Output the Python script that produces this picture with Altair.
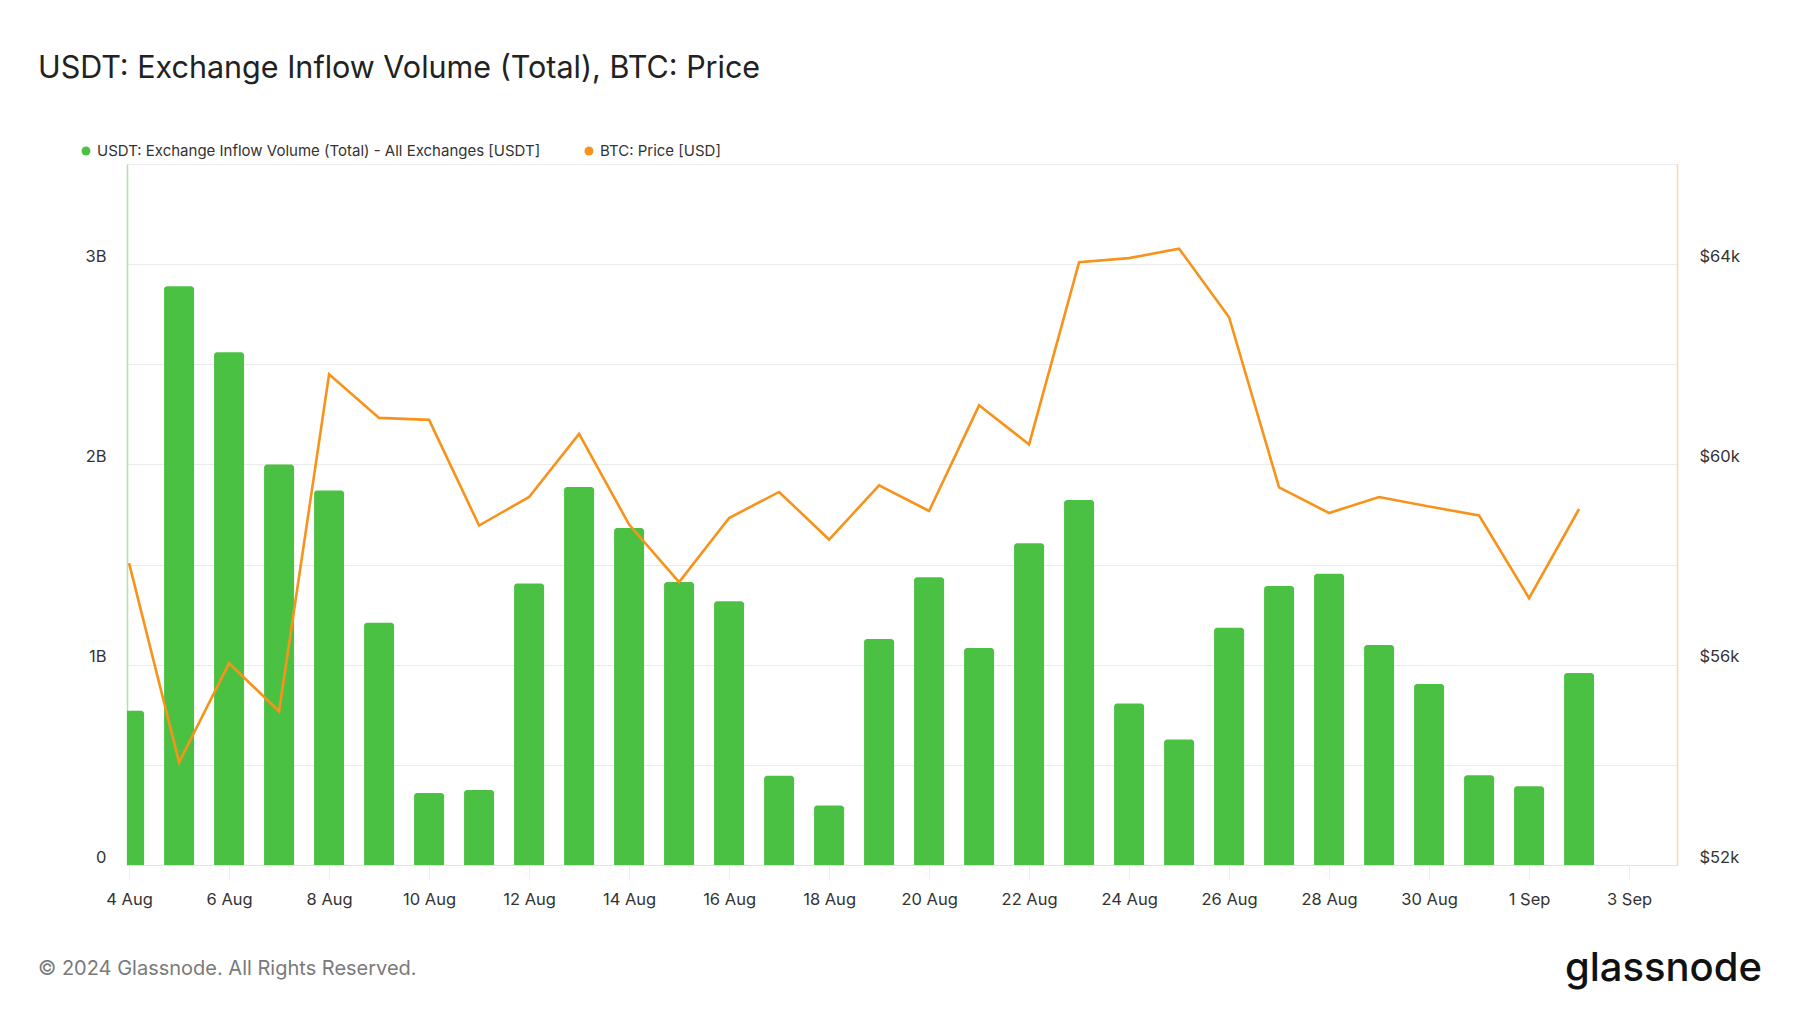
import altair as alt
import pandas as pd

# ---- data ----
dates = [
    "2024-08-04", "2024-08-05", "2024-08-06", "2024-08-07", "2024-08-08",
    "2024-08-09", "2024-08-10", "2024-08-11", "2024-08-12", "2024-08-13",
    "2024-08-14", "2024-08-15", "2024-08-16", "2024-08-17", "2024-08-18",
    "2024-08-19", "2024-08-20", "2024-08-21", "2024-08-22", "2024-08-23",
    "2024-08-24", "2024-08-25", "2024-08-26", "2024-08-27", "2024-08-28",
    "2024-08-29", "2024-08-30", "2024-08-31", "2024-09-01", "2024-09-02",
]
inflow_billion_usdt = [
    0.77, 2.89, 2.56, 2.00, 1.87, 1.21, 0.36, 0.375, 1.405, 1.887,
    1.683, 1.413, 1.317, 0.445, 0.297, 1.128, 1.437, 1.083, 1.607, 1.822,
    0.806, 0.626, 1.184, 1.393, 1.454, 1.098, 0.904, 0.448, 0.393, 0.959,
]
btc_price_usd = [
    58030, 54050, 56030, 55070, 61800, 60930, 60890, 58780, 59350, 60610,
    58800, 57650, 58930, 59450, 58500, 59580, 59070, 61180, 60400, 64040,
    64120, 64310, 62940, 59540, 59030, 59350, 59160, 58980, 57330, 59110,
]
x_tick_dates = [
    (8, 4), (8, 6), (8, 8), (8, 10), (8, 12), (8, 14), (8, 16), (8, 18),
    (8, 20), (8, 22), (8, 24), (8, 26), (8, 28), (8, 30), (9, 1), (9, 3),
]
left_ticks = [0, 0.5, 1, 1.5, 2, 2.5, 3, 3.5]
right_ticks = [52000, 54000, 56000, 58000, 60000, 62000, 64000, 66000]

title_text = "USDT: Exchange Inflow Volume (Total), BTC: Price"
legend_labels = ["USDT: Exchange Inflow Volume (Total) - All Exchanges [USDT]", "BTC: Price [USD]"]
footer_text = "© 2024 Glassnode. All Rights Reserved."
logo_text = "glassnode"

GREEN = "#4bc143"
ORANGE = "#f7931a"
FONT = "Inter"
LABEL_SIZE = 16.5

df = pd.DataFrame({"date": dates, "inflow": inflow_billion_usdt, "price": btc_price_usd})

x_scale = alt.Scale(
    type="utc",
    domain=[alt.DateTime(year=2024, month=8, date=3, hours=23, utc=True),
            alt.DateTime(year=2024, month=9, date=3, hours=23, utc=True)],
)
x_axis = alt.Axis(
    values=[alt.DateTime(year=2024, month=m, date=d, utc=True) for m, d in x_tick_dates],
    labelExpr="utcFormat(datum.value, '%-d %b')",
    title=None,
    grid=False,
    domainColor="#e3e3e3",
    tickColor="#ececec",
    tickSize=14,
    labelPadding=12,
    labelFlush=False,
    labelFontSize=LABEL_SIZE,
    labelColor="#333333",
    labelFont=FONT,
)

bars = alt.Chart(df).transform_calculate(
    x0="toDate(datum.date) - 25920000",
    x1="toDate(datum.date) + 25920000",
).mark_rect(
    color=GREEN, clip=True, cornerRadiusTopLeft=3, cornerRadiusTopRight=3
).encode(
    x=alt.X("x0:T", scale=x_scale, axis=x_axis),
    x2="x1:T",
    y=alt.Y(
        "inflow:Q",
        scale=alt.Scale(domain=[0, 3.5], nice=False, zero=True),
        axis=alt.Axis(
            orient="left",
            values=left_ticks,
            labelExpr="datum.value == 0 ? '0' : (datum.value % 1 == 0 ? datum.value + 'B' : '')",
            title=None,
            grid=True,
            gridColor="#ebebeb",
            gridWidth=1,
            domainColor="#aee3a8",
            domainWidth=1.5,
            ticks=False,
            labelPadding=21,
            labelBaseline="alphabetic",
            labelOffset=-3,
            labelFontSize=LABEL_SIZE,
            labelColor="#333333",
            labelFont=FONT,
        ),
    ),
    y2=alt.datum(0),
)

line = alt.Chart(df).mark_line(color=ORANGE, strokeWidth=2.6, clip=True).encode(
    x=alt.X("date:T"),
    y=alt.Y(
        "price:Q",
        scale=alt.Scale(domain=[52000, 66000], nice=False, zero=False),
        axis=alt.Axis(
            orient="right",
            values=right_ticks,
            labelExpr="datum.value % 4000 == 0 ? '$' + (datum.value / 1000) + 'k' : ''",
            title=None,
            grid=False,
            domainColor="#fbd8a6",
            domainWidth=1.5,
            ticks=False,
            labelPadding=22,
            labelBaseline="alphabetic",
            labelOffset=-3,
            labelFontSize=LABEL_SIZE,
            labelColor="#333333",
            labelFont=FONT,
        ),
    ),
)


def text_layer(text, x, y, size, color, align="left", baseline="alphabetic", weight=400):
    return alt.Chart(pd.DataFrame({"t": [text]})).mark_text(
        align=align, baseline=baseline, fontSize=size, color=color, font=FONT, fontWeight=weight
    ).encode(x=alt.value(x), y=alt.value(y), text="t:N")


def dot_layer(x, y, color):
    return alt.Chart(pd.DataFrame({"t": [0]})).mark_point(
        filled=True, shape="circle", size=80, color=color, opacity=1
    ).encode(x=alt.value(x), y=alt.value(y))


title = text_layer(title_text, -89, -86, 30.5, "#222222")
leg1_dot = dot_layer(-41, -13, GREEN)
leg1_txt = text_layer(legend_labels[0], -30, -13, 15, "#333333", baseline="middle")
leg2_dot = dot_layer(462, -13, ORANGE)
leg2_txt = text_layer(legend_labels[1], 473, -13, 15, "#333333", baseline="middle")
footer = text_layer(footer_text, -89, 805, 20, "#7a7a7a", baseline="middle")
logo = text_layer(logo_text, 1635, 817, 40, "#111111", align="right", weight=500)

chart = (
    alt.layer(bars, line, title, leg1_dot, leg1_txt, leg2_dot, leg2_txt, footer, logo)
    .resolve_scale(y="independent")
    .properties(
        width=1550,
        height=701,
        autosize=alt.AutoSizeParams(type="none"),
        padding={"left": 127, "top": 164, "right": 123, "bottom": 148},
        background="white",
    )
    .configure_view(stroke="#e5e5e5", strokeWidth=1)
)

chart.save("out.html", embed_options={"renderer": "svg", "actions": False})
